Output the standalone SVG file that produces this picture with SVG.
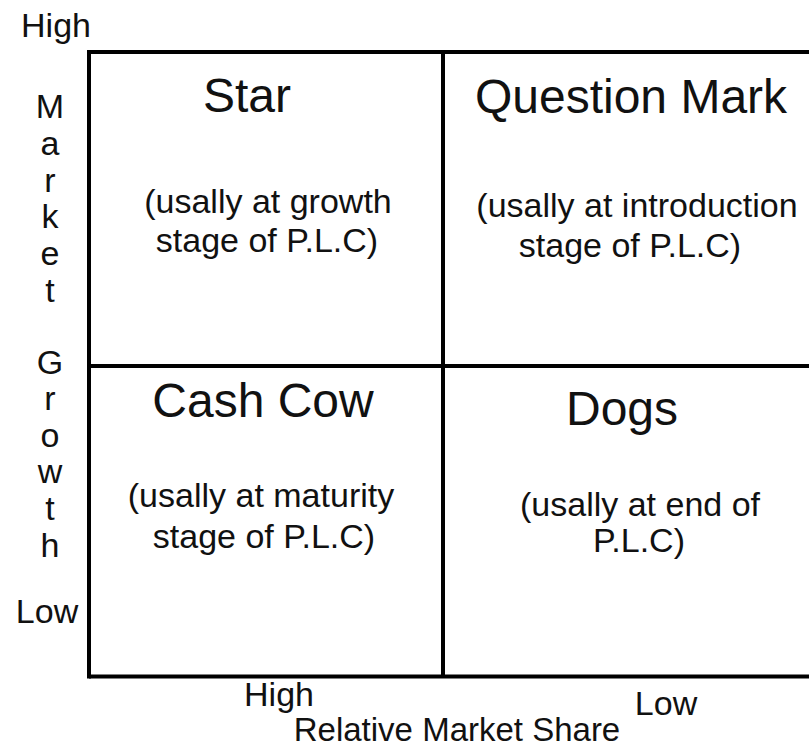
<svg xmlns="http://www.w3.org/2000/svg" width="809" height="748" viewBox="0 0 809 748">
  <style>
    text { font-family: "Liberation Sans", Arial, sans-serif; fill: #111; text-anchor: middle; }
    .title { font-size: 48px; }
    .sub { font-size: 34px; }
    .axis { font-size: 34px; }
    .grid line { stroke: #000; stroke-width: 4; }
  </style>
  <rect width="809" height="748" fill="#fff"/>
  <g id="grid" class="grid">
    <line x1="89" y1="52" x2="809" y2="52"/>
    <line x1="89" y1="676.5" x2="809" y2="676.5"/>
    <line x1="89" y1="50" x2="89" y2="678.5"/>
    <line x1="443" y1="52" x2="443" y2="676.5"/>
    <line x1="89" y1="366" x2="809" y2="366"/>
  </g>
  <g id="star">
    <text class="title" x="247" y="112">Star</text>
    <text class="sub" x="268" y="213">(usally at growth</text>
    <text class="sub" x="267" y="252">stage of P.L.C)</text>
  </g>
  <g id="question-mark">
    <text class="title" x="631" y="113">Question Mark</text>
    <text class="sub" x="637" y="217">(usally at introduction</text>
    <text class="sub" x="630" y="257">stage of P.L.C)</text>
  </g>
  <g id="cash-cow">
    <text class="title" x="263" y="417">Cash Cow</text>
    <text class="sub" x="261" y="507">(usally at maturity</text>
    <text class="sub" x="264" y="548">stage of P.L.C)</text>
  </g>
  <g id="dogs">
    <text class="title" x="622" y="425">Dogs</text>
    <text class="sub" x="640" y="516">(usally at end of</text>
    <text class="sub" x="639" y="552">P.L.C)</text>
  </g>
  <g id="y-axis">
    <text class="axis" x="56" y="37">High</text>
    <text class="axis" x="50" y="118">M</text>
    <text class="axis" x="50" y="155">a</text>
    <text class="axis" x="50" y="192">r</text>
    <text class="axis" x="50" y="228">k</text>
    <text class="axis" x="50" y="265">e</text>
    <text class="axis" x="50" y="302">t</text>
    <text class="axis" x="50" y="374">G</text>
    <text class="axis" x="50" y="410">r</text>
    <text class="axis" x="50" y="447">o</text>
    <text class="axis" x="50" y="483">w</text>
    <text class="axis" x="50" y="520">t</text>
    <text class="axis" x="50" y="557">h</text>
    <text class="axis" x="47" y="623">Low</text>
  </g>
  <g id="x-axis">
    <text class="axis" x="279" y="706">High</text>
    <text class="axis" x="666" y="715">Low</text>
    <text class="axis" x="457" y="741" style="font-size:33px">Relative Market Share</text>
  </g>
</svg>
